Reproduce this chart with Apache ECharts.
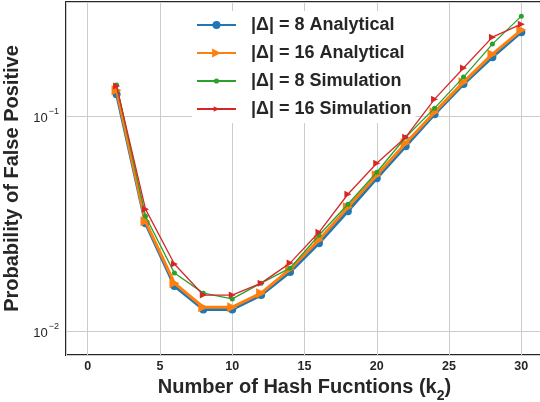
<!DOCTYPE html>
<html><head><meta charset="utf-8">
<script src="https://cdn.jsdelivr.net/npm/echarts@6/dist/echarts.min.js"></script>
<style>html,body{margin:0;padding:0;background:#fff}#c{width:540px;height:402px}</style>
</head><body><div id="c"></div>
<script>
const kValues = [2,4,6,8,10,12,14,16,18,20,22,24,26,28,30];
const analytical8 = [0.1266,0.0317,0.0162,0.0126,0.0126,0.0147,0.0188,0.0256,0.0361,0.0514,0.0725,0.1022,0.141,0.1883,0.246];
const analytical16 = [0.1322,0.0324,0.0167,0.0129,0.0129,0.0150,0.0194,0.0265,0.0377,0.0531,0.0748,0.1044,0.144,0.1944,0.2516];
const simulation8 = [0.1395,0.0342,0.0186,0.0150,0.0141,0.0167,0.0196,0.0279,0.0389,0.0548,0.0798,0.109,0.152,0.2165,0.2922];
const simulation16 = [0.138,0.0369,0.0205,0.0147,0.0147,0.0167,0.0207,0.0288,0.0433,0.0604,0.0798,0.120,0.1676,0.2333,0.268];
const seriesNames = ['|Δ| = 8 Analytical','|Δ| = 16 Analytical','|Δ| = 8 Simulation','|Δ| = 16 Simulation'];
const xTitle = 'Number of Hash Fucntions (k';
const yTitle = 'Probability of False Positive';

const pair = arr => kValues.map((k,i)=>[k,arr[i]]);
const chart = echarts.init(document.getElementById('c'));
const txt = '#262626';
const font = 'Liberation Sans, Arial, sans-serif';
const legendIconH = [10,11,6.5,7];
const legends = seriesNames.map((n,i)=>({
  orient:'vertical',left:192,top:11+28*i,itemWidth:39,itemHeight:legendIconH[i],itemGap:0,
  backgroundColor:'#fff',padding:[0,4,0,4],
  textStyle:{fontFamily:font,fontWeight:'bold',fontSize:18,color:txt,lineHeight:28,padding:[0,0,0,10]},
  data:[n]
}));
chart.setOption({
  animation:false,
  backgroundColor:'#fff',
  grid:{left:66,top:2,right:-3,bottom:47,outerBoundsMode:'none',containLabel:false,show:true,borderColor:'#262626',borderWidth:2,backgroundColor:'transparent'},
  legend:legends,
  xAxis:{
    type:'value',min:-1.5,max:31.5,splitNumber:5,
    axisLine:{show:false},axisTick:{show:false},
    splitLine:{show:true,lineStyle:{color:'#cccccc',width:1}},
    axisLabel:{showMinLabel:false,showMaxLabel:false,margin:5,fontFamily:font,fontWeight:'bold',fontSize:12.5,color:txt},
    name:'{a|'+xTitle+'}{s|2}{a|)}',nameLocation:'middle',nameGap:18,
    nameTextStyle:{rich:{
      a:{fontFamily:font,fontWeight:'bold',fontSize:20,color:txt,lineHeight:24,verticalAlign:'bottom'},
      s:{fontFamily:font,fontWeight:'bold',fontSize:14,color:txt,lineHeight:24,verticalAlign:'bottom',padding:[0,0,-5,0]}
    }}
  },
  yAxis:{
    type:'log',logBase:10,min:0.00773,max:0.34,
    axisLine:{show:false},axisTick:{show:false},minorTick:{show:false},
    splitLine:{show:true,lineStyle:{color:'#cccccc',width:1}},
    axisLabel:{showMinLabel:false,showMaxLabel:false,margin:7,
      formatter:v=>'{b|10}{e|−'+Math.abs(Math.round(Math.log10(v)))+'}',
      rich:{
        b:{fontFamily:font,fontSize:13,color:txt,lineHeight:18,verticalAlign:'bottom'},
        e:{fontFamily:font,fontSize:9,color:txt,lineHeight:18,verticalAlign:'bottom',padding:[0,0,9,1]}
      }},
    name:yTitle,nameLocation:'middle',nameGap:35,
    nameTextStyle:{fontFamily:font,fontWeight:'bold',fontSize:20,color:txt}
  },
  series:[
    {name:seriesNames[0],type:'line',data:pair(analytical8),color:'#1f77b4',lineStyle:{width:3},symbol:'circle',symbolSize:8,itemStyle:{color:'#1f77b4'},z:2},
    {name:seriesNames[1],type:'line',data:pair(analytical16),color:'#ff7f0e',lineStyle:{width:3},symbol:'triangle',symbolRotate:-90,symbolSize:10,itemStyle:{color:'#ff7f0e'},z:3},
    {name:seriesNames[2],type:'line',data:pair(simulation8),color:'#2ca02c',lineStyle:{width:1.3},symbol:'circle',symbolSize:5,itemStyle:{color:'#2ca02c'},z:4},
    {name:seriesNames[3],type:'line',data:pair(simulation16),color:'#d62728',lineStyle:{width:1.3},symbol:'triangle',symbolRotate:-90,symbolSize:7,itemStyle:{color:'#d62728'},z:5}
  ]
});
</script></body></html>
